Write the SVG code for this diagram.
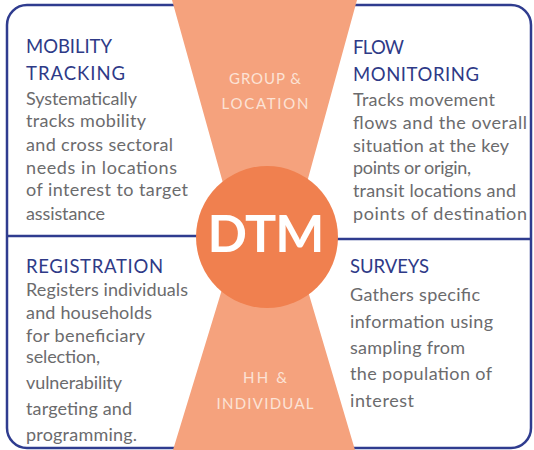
<svg xmlns="http://www.w3.org/2000/svg" width="534" height="450" viewBox="0 0 534 450">
  <style>
    .frame { fill: none; stroke: #2F3C8F; stroke-width: 2.5; }
    .divider { stroke: #2F3C8F; stroke-width: 2.5; }
    .head { font-family: Lato, "Open Sans", "Liberation Sans", sans-serif; font-size: 18.5px; fill: #2E3A87; }
    .body { font-family: Lato, "Open Sans", "Liberation Sans", sans-serif; font-size: 18px; fill: #6B6B6D; }
    .band { font-family: Lato, "Open Sans", "Liberation Sans", sans-serif; font-size: 15px; fill: #FCE3D6; text-anchor: middle; }
    .dtm { font-family: Lato, "Liberation Sans", sans-serif; font-size: 52px; font-weight: bold; fill: #FFFFFF; text-anchor: middle; }
  </style>
  <rect x="0" y="0" width="534" height="450" fill="#FFFFFF"/>
  <g id="frame">
    <rect class="frame" x="7" y="5" width="524" height="443" rx="20" ry="20"/>
    <line class="divider" x1="7" y1="236" x2="210" y2="236"/>
    <line class="divider" x1="320" y1="239" x2="531" y2="239"/>
  </g>
  <g id="hourglass">
    <polygon points="172,0 357,0 292,237 355,450 173,450 238,237" fill="#F5A27D"/>
  </g>
  <g id="group-location">
    <text class="band" x="265" y="84" textLength="72">GROUP &amp;</text>
    <text class="band" x="265" y="109" textLength="87">LOCATION</text>
  </g>
  <g id="hh-individual">
    <text class="band" x="265" y="383" textLength="44">HH &amp;</text>
    <text class="band" x="265" y="409" textLength="97">INDIVIDUAL</text>
  </g>
  <g id="dtm">
    <circle cx="267" cy="237" r="71" fill="#F0804F"/>
    <text class="dtm" x="266" y="252" textLength="117">DTM</text>
  </g>
  <g id="mobility-tracking">
    <text class="head" x="26" y="53" textLength="86">MOBILITY</text>
    <text class="head" x="26" y="80" textLength="99">TRACKING</text>
    <text class="body" x="26" y="105" textLength="111">Systematically</text>
    <text class="body" x="26" y="127" textLength="120">tracks mobility</text>
    <text class="body" x="26" y="151" textLength="147">and cross sectoral</text>
    <text class="body" x="26" y="174" textLength="151">needs in locations</text>
    <text class="body" x="26" y="196" textLength="162">of interest to target</text>
    <text class="body" x="26" y="220" textLength="79">assistance</text>
  </g>
  <g id="flow-monitoring">
    <text class="head" x="353" y="54" textLength="51">FLOW</text>
    <text class="head" x="353" y="81" textLength="126">MONITORING</text>
    <text class="body" x="353" y="106" textLength="142">Tracks movement</text>
    <text class="body" x="353" y="129" textLength="174">flows and the overall</text>
    <text class="body" x="353" y="152" textLength="156">situation at the key</text>
    <text class="body" x="353" y="174" textLength="118">points or origin,</text>
    <text class="body" x="353" y="197" textLength="163">transit locations and</text>
    <text class="body" x="353" y="220" textLength="174">points of destination</text>
  </g>
  <g id="registration">
    <text class="head" x="26" y="273" textLength="137">REGISTRATION</text>
    <text class="body" x="26" y="296" textLength="162">Registers individuals</text>
    <text class="body" x="26" y="319" textLength="126">and households</text>
    <text class="body" x="26" y="342" textLength="119">for beneficiary</text>
    <text class="body" x="26" y="363" textLength="74">selection,</text>
    <text class="body" x="26" y="389" textLength="96">vulnerability</text>
    <text class="body" x="26" y="415" textLength="106">targeting and</text>
    <text class="body" x="26" y="441" textLength="111">programming.</text>
  </g>
  <g id="surveys">
    <text class="head" x="350" y="273" textLength="79">SURVEYS</text>
    <text class="body" x="350" y="301" textLength="130">Gathers specific</text>
    <text class="body" x="350" y="328" textLength="143">information using</text>
    <text class="body" x="350" y="354" textLength="115">sampling from</text>
    <text class="body" x="350" y="380" textLength="142">the population of</text>
    <text class="body" x="350" y="407" textLength="64">interest</text>
  </g>
  <g id="connectors"></g>
</svg>
